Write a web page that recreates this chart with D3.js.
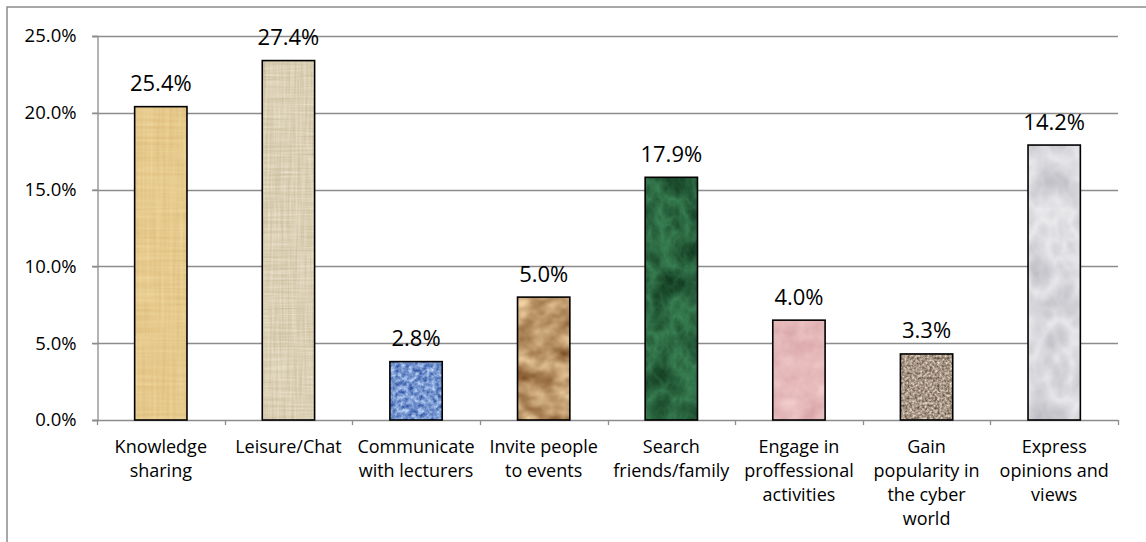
<!DOCTYPE html>
<html>
<head>
<meta charset="utf-8">
<script src="https://cdn.jsdelivr.net/npm/d3@7/dist/d3.min.js"></script>
<style>
  html, body { margin: 0; padding: 0; background: #fff; }
  svg { display: block; }
  text { font-family: "Open Sans", "Noto Sans", sans-serif; fill: #000; }
</style>
</head>
<body>
<svg id="chart" width="1146" height="542"></svg>
<script>
// Purposes of social network use among students
const categories = [
  "Knowledge\nsharing",
  "Leisure/Chat",
  "Communicate\nwith lecturers",
  "Invite people\nto events",
  "Search\nfriends/family",
  "Engage in\nproffessional\nactivities",
  "Gain\npopularity in\nthe cyber\nworld",
  "Express\nopinions and\nviews"
];
// bar heights (percent) on the value axis
const barValues = [20.4, 23.4, 3.8, 8.0, 15.8, 6.5, 4.3, 17.9];
// data labels printed above each bar
const barLabels = ["25.4%", "27.4%", "2.8%", "5.0%", "17.9%", "4.0%", "3.3%", "14.2%"];
// value axis ticks
const yTicks = [0, 5, 10, 15, 20, 25];

// Texture fills: two colours blended by a noise field
const textures = [
  { kind: "weave", c1: "#f1dba3", c2: "#dcb877", fx: 0.012, fy: 0.3, oct: 2, seed: 3, k: 1.3, blur: 0.6 },
  { kind: "weave", c1: "#ede5d1", c2: "#c9bb99", fx: 0.02, fy: 0.5, oct: 2, seed: 7, k: 1.6, blur: 0.5 },
  { kind: "noise", c1: "#aac4ef", c2: "#4468b0", fx: 0.22, fy: 0.22, oct: 3, seed: 11, k: 2.2, blur: 0.6 },
  { kind: "noise", c1: "#e0bf90", c2: "#946a3e", fx: 0.045, fy: 0.07, oct: 4, seed: 5, k: 2.2, blur: 0.8 },
  { kind: "marble", c1: "#3f8b5c", c2: "#1b4b2c", fx: 0.04, fy: 0.03, oct: 4, seed: 9, k: 1.5, blur: 0.7 },
  { kind: "noise", c1: "#f0c9c9", c2: "#dcabad", fx: 0.05, fy: 0.05, oct: 3, seed: 2, k: 1.8, blur: 0.6 },
  { kind: "noise", c1: "#d3c5b6", c2: "#7a6857", fx: 0.4, fy: 0.4, oct: 2, seed: 4, k: 2.4, blur: 0.6 },
  { kind: "marble", c1: "#f6f6f8", c2: "#c3c3c9", fx: 0.035, fy: 0.025, oct: 4, seed: 13, k: 1.3, blur: 0.9 }
];

const svg = d3.select("#chart");
const W = 1146, H = 542;
const plot = { left: 97, right: 1118, top: 36, bottom: 420 };

const x = d3.scaleBand()
  .domain(categories)
  .range([plot.left, plot.right])
  .paddingInner(0.59)
  .paddingOuter(0.295);

const y = d3.scaleLinear().domain([0, 25]).range([plot.bottom, plot.top]);

// outer frame of the chart area
svg.append("rect")
  .attr("x", 7).attr("y", 7)
  .attr("width", W + 10).attr("height", H + 10)
  .attr("fill", "none").attr("stroke", "#8c8c8c").attr("stroke-width", 1.5);

// ---- texture filters ----
const defs = svg.append("defs");
function hexRGB(h) {
  const c = d3.rgb(h);
  return [c.r / 255, c.g / 255, c.b / 255];
}
textures.forEach((t, i) => {
  const f = defs.append("filter")
    .attr("id", "tex" + i)
    .attr("x", 0).attr("y", 0).attr("width", 1).attr("height", 1)
    .attr("color-interpolation-filters", "sRGB");
  if (t.kind === "weave") {
    f.append("feTurbulence").attr("type", "fractalNoise")
      .attr("baseFrequency", t.fx + " " + t.fy).attr("numOctaves", t.oct)
      .attr("seed", t.seed).attr("result", "n1");
    f.append("feTurbulence").attr("type", "fractalNoise")
      .attr("baseFrequency", t.fy + " " + t.fx).attr("numOctaves", t.oct)
      .attr("seed", t.seed + 1).attr("result", "n2");
    f.append("feComposite").attr("in", "n1").attr("in2", "n2")
      .attr("operator", "arithmetic").attr("k1", 0).attr("k2", 0.5).attr("k3", 0.5).attr("k4", 0)
      .attr("result", "n0");
  } else {
    f.append("feTurbulence")
      .attr("type", t.kind === "marble" ? "turbulence" : "fractalNoise")
      .attr("baseFrequency", t.fx + " " + t.fy).attr("numOctaves", t.oct)
      .attr("seed", t.seed).attr("result", "n0");
  }
  f.append("feGaussianBlur").attr("in", "n0").attr("stdDeviation", t.blur).attr("result", "n");
  const a = hexRGB(t.c1), b = hexRGB(t.c2);
  const centre = t.kind === "marble" ? 0.25 : 0.5;
  const rows = [0, 1, 2].map(ch => {
    const d = (b[ch] - a[ch]) * t.k;
    const mid = (a[ch] + b[ch]) / 2;
    return [d, 0, 0, 0, mid - centre * d];
  });
  const vals = rows.map(r => r.join(" ")).join("  ") + "  0 0 0 0 1";
  f.append("feColorMatrix").attr("in", "n").attr("type", "matrix")
    .attr("values", vals).attr("result", "col");
  f.append("feComposite").attr("in", "col").attr("in2", "SourceGraphic").attr("operator", "in");
});

// ---- gridlines ----
svg.append("g")
  .selectAll("line")
  .data(yTicks)
  .join("line")
  .attr("x1", plot.left - 5).attr("x2", plot.right)
  .attr("y1", d => Math.round(y(d)) + 0.5).attr("y2", d => Math.round(y(d)) + 0.5)
  .attr("stroke", "#8c8c8c").attr("stroke-width", 1.3);

// value axis
const yAxis = svg.append("g")
  .attr("transform", `translate(${plot.left + 0.5},0)`)
  .call(d3.axisLeft(y).tickValues(yTicks).tickSize(5).tickPadding(16)
    .tickFormat(d => d.toFixed(1) + "%"));
yAxis.select(".domain").attr("stroke", "#8c8c8c").attr("stroke-width", 1.3);
yAxis.selectAll(".tick line").attr("stroke", "#8c8c8c").attr("stroke-width", 1.3);
yAxis.selectAll(".tick text")
  .attr("font-size", 18.5)
  .style("font-family", "'Open Sans', 'Noto Sans', sans-serif")
  .attr("fill", "#000");

// category axis: ticks on the band boundaries
const step = x.step();
const boundaries = d3.range(categories.length + 1).map(i => plot.left + i * step);
svg.append("g")
  .selectAll("line")
  .data(boundaries)
  .join("line")
  .attr("x1", d => Math.round(d) + 0.5).attr("x2", d => Math.round(d) + 0.5)
  .attr("y1", plot.bottom).attr("y2", plot.bottom + 5)
  .attr("stroke", "#8c8c8c").attr("stroke-width", 1.3);

// ---- bars ----
const bars = svg.append("g");
bars.selectAll("rect.fill")
  .data(barValues)
  .join("rect")
  .attr("class", "fill")
  .attr("x", (d, i) => x(categories[i]))
  .attr("y", d => y(d))
  .attr("width", x.bandwidth())
  .attr("height", d => y(0) - y(d))
  .attr("fill", (d, i) => textures[i].c1)
  .attr("filter", (d, i) => `url(#tex${i})`);
bars.selectAll("rect.edge")
  .data(barValues)
  .join("rect")
  .attr("class", "edge")
  .attr("x", (d, i) => x(categories[i]))
  .attr("y", d => y(d))
  .attr("width", x.bandwidth())
  .attr("height", d => y(0) - y(d))
  .attr("fill", "none")
  .attr("stroke", "#000").attr("stroke-width", 1.6);

// data labels
svg.append("g")
  .selectAll("text")
  .data(barValues)
  .join("text")
  .attr("x", (d, i) => x(categories[i]) + x.bandwidth() / 2)
  .attr("y", d => y(d) - 15.5)
  .attr("text-anchor", "middle")
  .attr("font-size", 22)
  .text((d, i) => barLabels[i]);

// category labels (multi-line)
const catG = svg.append("g");
categories.forEach((c, i) => {
  const t = catG.append("text")
    .attr("x", x(c) + x.bandwidth() / 2)
    .attr("y", 453)
    .attr("text-anchor", "middle")
    .attr("font-size", 18);
  c.split("\n").forEach((line, j) => {
    t.append("tspan")
      .attr("x", x(c) + x.bandwidth() / 2)
      .attr("dy", j === 0 ? 0 : 24)
      .text(line);
  });
});
</script>
</body>
</html>
